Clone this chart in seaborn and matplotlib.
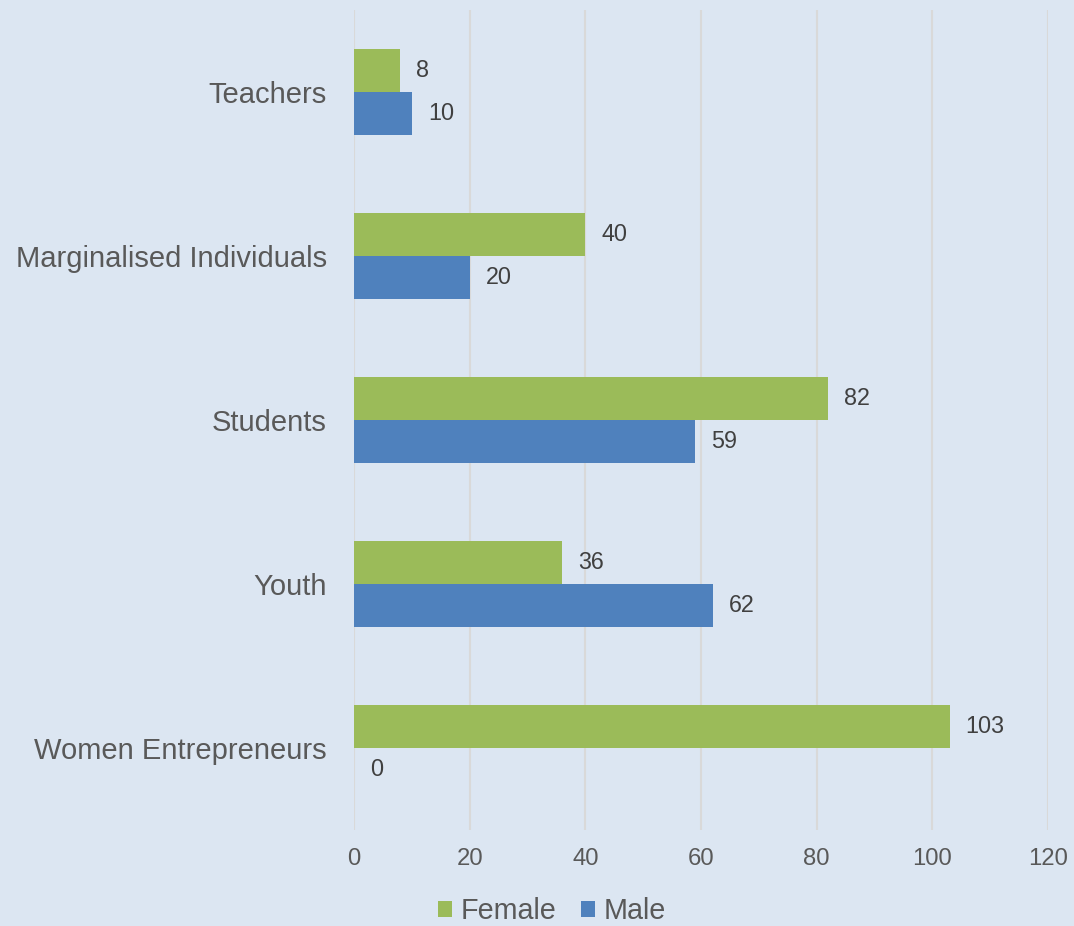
import matplotlib
matplotlib.use("Agg")
import matplotlib.pyplot as plt
from matplotlib.patches import Patch
import seaborn as sns
import pandas as pd

categories = ["Teachers", "Marginalised Individuals", "Students", "Youth", "Women Entrepreneurs"]
female = [8, 40, 82, 36, 103]
male = [10, 20, 59, 62, 0]
series = ["Female", "Male"]
x_ticks = [0, 20, 40, 60, 80, 100, 120]

BG = "#DCE6F2"
GREEN = "#9BBB59"
BLUE = "#4F81BD"
GRID = "#D9D9D9"
TXT = "#595959"
VAL = "#404040"

df = pd.DataFrame({
    "Group": categories * 2,
    "Gender": ["Female"] * len(categories) + ["Male"] * len(categories),
    "Count": female + male,
})

sns.set_theme(style="white")
plt.rcParams["font.family"] = ["Liberation Sans", "DejaVu Sans"]

fig = plt.figure(figsize=(10.74, 9.26), dpi=100, facecolor=BG)
ax = fig.add_axes([354 / 1074, 1 - 830 / 926, 694 / 1074, 820 / 926])
ax.set_facecolor(BG)

sns.barplot(data=df, y="Group", x="Count", hue="Gender", order=categories,
            hue_order=series, palette={"Female": GREEN, "Male": BLUE},
            orient="h", width=0.525, saturation=1, errorbar=None,
            linewidth=0, ax=ax, legend=False)

for cont in ax.containers:
    ax.bar_label(cont, padding=11.5, fontsize=16.8, color=VAL)

ax.set_xlim(0, 120)
ax.set_ylim(4.5, -0.5)
ax.set_xticks(x_ticks)
ax.set_xticklabels([str(t) for t in x_ticks])
ax.set_xlabel("")
ax.set_ylabel("")
ax.grid(axis="x", color=GRID, linewidth=1.5)
ax.set_axisbelow(True)
for s in ax.spines.values():
    s.set_visible(False)
ax.tick_params(axis="x", length=0, pad=13, labelsize=17.2, labelcolor=TXT)
ax.tick_params(axis="y", length=0, pad=19.5, labelsize=21, labelcolor=TXT)

handles = [Patch(facecolor=GREEN, edgecolor="none"), Patch(facecolor=BLUE, edgecolor="none")]
fig.legend(handles, series, loc="center", bbox_to_anchor=(552 / 1074, 1 - 911 / 926),
           ncol=2, frameon=False, fontsize=20.7, labelcolor=TXT,
           handlelength=0.5, handleheight=0.5, handletextpad=0.3,
           columnspacing=0.85, borderpad=0, borderaxespad=0)

fig.savefig("out.png", dpi=100, facecolor=BG)
